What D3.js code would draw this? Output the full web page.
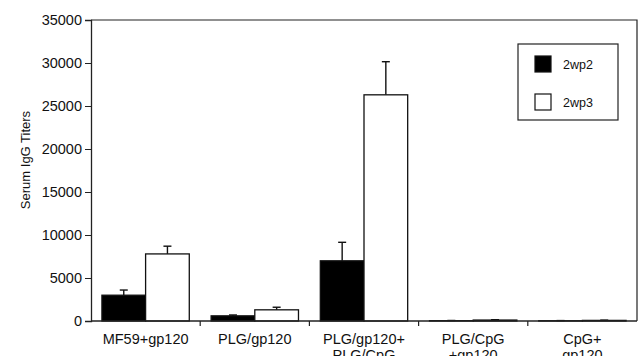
<!DOCTYPE html>
<html>
<head>
<meta charset="utf-8">
<script src="https://cdn.jsdelivr.net/npm/d3@7"></script>
<style>
  body { margin: 0; background: #fff; }
  text { font-family: "Liberation Sans", Arial, sans-serif; fill: #111; }
</style>
</head>
<body>
<svg id="chart" width="639" height="356"></svg>
<script>
// groups along the x axis (two-line labels)
const groups = [
  ["MF59+gp120"],
  ["PLG/gp120"],
  ["PLG/gp120+", "PLG/CpG"],
  ["PLG/CpG", "+gp120"],
  ["CpG+", "gp120"]
];
const seriesNames = ["2wp2", "2wp3"];
// mean titers and upper error-bar ends
const wp2Values = [3000, 600, 7000, 40, 30];
const wp2Upper = [3600, 700, 9150, 60, 50];
const wp3Values = [7800, 1300, 26300, 110, 70];
const wp3Upper = [8700, 1600, 30150, 150, 100];
const yTicks = [0, 5000, 10000, 15000, 20000, 25000, 30000, 35000];

const svg = d3.select("#chart");
const margin = { top: 20, right: 2, bottom: 35, left: 91 };
const W = 639, H = 356;

const x = d3.scaleBand()
  .domain(d3.range(groups.length))
  .range([margin.left, W - margin.right]);
const xs = d3.scaleBand()
  .domain(seriesNames)
  .range([0, x.bandwidth()])
  .paddingOuter(0.25);
const y = d3.scaleLinear()
  .domain([0, 35000])
  .range([H - margin.bottom, margin.top]);

const series = [
  { name: "2wp2", values: wp2Values, upper: wp2Upper, fill: "#000" },
  { name: "2wp3", values: wp3Values, upper: wp3Upper, fill: "#fff" }
];

// frame top and right
svg.append("path")
  .attr("d", `M${margin.left},${y(35000)}H${W - margin.right}V${y(0)}`)
  .attr("fill", "none").attr("stroke", "#222").attr("stroke-width", 1.2);

// bars
series.forEach(s => {
  const g = svg.append("g");
  s.values.forEach((v, i) => {
    const bx = x(i) + xs(s.name);
    const bw = xs.bandwidth();
    g.append("line")
      .attr("x1", bx + bw / 2).attr("x2", bx + bw / 2)
      .attr("y1", y(v)).attr("y2", y(s.upper[i]))
      .attr("stroke", "#111").attr("stroke-width", 1.4);
    g.append("line")
      .attr("x1", bx + bw / 2 - 4).attr("x2", bx + bw / 2 + 4)
      .attr("y1", y(s.upper[i])).attr("y2", y(s.upper[i]))
      .attr("stroke", "#111").attr("stroke-width", 1.4);
    g.append("rect")
      .attr("x", bx).attr("y", y(v))
      .attr("width", bw).attr("height", y(0) - y(v))
      .attr("fill", s.fill)
      .attr("stroke", "#111").attr("stroke-width", 1.3);
  });
});

// y axis
const yAxis = svg.append("g")
  .attr("transform", `translate(${margin.left},0)`)
  .call(d3.axisLeft(y).tickValues(yTicks).tickSize(6).tickPadding(3).tickFormat(d3.format("d")));
yAxis.select(".domain").attr("stroke", "#222").attr("stroke-width", 1.3);
yAxis.selectAll(".tick line").attr("stroke", "#222");
yAxis.selectAll("text").attr("font-size", 14.5).attr("fill", "#111")
  .attr("font-family", "Liberation Sans, Arial, sans-serif");

// x axis with ticks between groups
const xAxis = svg.append("g");
xAxis.append("line")
  .attr("x1", margin.left).attr("x2", W - margin.right)
  .attr("y1", y(0)).attr("y2", y(0))
  .attr("stroke", "#222").attr("stroke-width", 1.6);
d3.range(1, groups.length).forEach(i => {
  xAxis.append("line")
    .attr("x1", x(i)).attr("x2", x(i))
    .attr("y1", y(0)).attr("y2", y(0) + 5)
    .attr("stroke", "#222").attr("stroke-width", 1.2);
});
groups.forEach((lines, i) => {
  const t = xAxis.append("text")
    .attr("x", x(i) + x.bandwidth() / 2)
    .attr("y", y(0) + 23)
    .attr("text-anchor", "middle")
    .attr("font-size", 14.5);
  lines.forEach((l, j) => {
    t.append("tspan")
      .attr("x", x(i) + x.bandwidth() / 2)
      .attr("dy", j === 0 ? 0 : 16)
      .text(l);
  });
});

// y title
svg.append("text")
  .attr("transform", `translate(30,160) rotate(-90)`)
  .attr("text-anchor", "middle")
  .attr("font-size", 13)
  .text("Serum IgG Titers");

// legend
const lg = svg.append("g").attr("transform", "translate(518,44)");
lg.append("rect")
  .attr("width", 100).attr("height", 76)
  .attr("fill", "#fff").attr("stroke", "#222").attr("stroke-width", 1.2);
series.forEach((s, i) => {
  lg.append("rect")
    .attr("x", 17).attr("y", 12 + i * 38)
    .attr("width", 16).attr("height", 16)
    .attr("fill", s.fill).attr("stroke", "#111").attr("stroke-width", 1.2);
  lg.append("text")
    .attr("x", 45).attr("y", 25 + i * 38)
    .attr("font-size", 12.5)
    .text(s.name);
});
</script>
</body>
</html>
